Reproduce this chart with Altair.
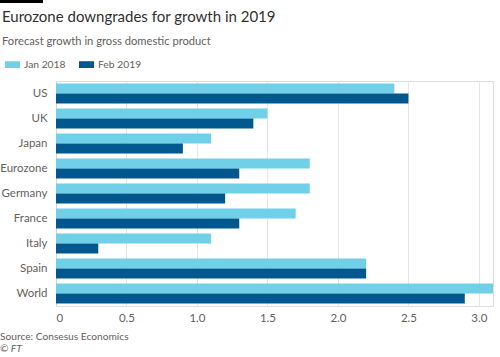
import altair as alt
import pandas as pd

countries = ["US", "UK", "Japan", "Eurozone", "Germany", "France", "Italy", "Spain", "World"]
jan_2018 = [2.4, 1.5, 1.1, 1.8, 1.8, 1.7, 1.1, 2.2, 3.1]
feb_2019 = [2.5, 1.4, 0.9, 1.3, 1.2, 1.3, 0.3, 2.2, 2.9]
series = ["Jan 2018", "Feb 2019"]
colors = ["#6fd0e8", "#00588f"]
x_ticks = [0, 0.5, 1.0, 1.5, 2.0, 2.5, 3.0]

title_text = "Eurozone downgrades for growth in 2019"
subtitle_text = "Forecast growth in gross domestic product"
source_text = "Source: Consesus Economics"
credit_text = "© FT"

rows = []
for c, a, b in zip(countries, jan_2018, feb_2019):
    rows.append({"country": c, "series": series[0], "value": a})
    rows.append({"country": c, "series": series[1], "value": b})
df = pd.DataFrame(rows)

FONT = "Lato"
TXT = "#66605c"

bars = alt.Chart(df).mark_bar(cornerRadius=0).encode(
    y=alt.Y("country:N", sort=countries, title=None,
            scale=alt.Scale(paddingInner=0.2, paddingOuter=0.1),
            axis=alt.Axis(ticks=False, labelPadding=9, labelFontSize=11.5,
                          labelColor=TXT, labelFont=FONT, domain=True,
                          domainColor="#d9d3ce", grid=False)),
    yOffset=alt.YOffset("series:N", sort=series),
    x=alt.X("value:Q", title=None,
            scale=alt.Scale(domain=[0, 3.1], nice=False),
            axis=alt.Axis(values=x_ticks,
                          labelExpr="datum.value == 0 ? '0' : format(datum.value, '.1f')",
                          ticks=False, domain=False, grid=True, gridColor="#e9e4df",
                          labelPadding=6, labelFontSize=11.5, labelColor=TXT, labelFont=FONT)),
    color=alt.Color("series:N", sort=series,
                    scale=alt.Scale(domain=series, range=colors),
                    legend=alt.Legend(title=None, orient="none", direction="horizontal",
                                      legendX=-51, legendY=-24,
                                      symbolType="M-1,-0.45L1,-0.45L1,0.45L-1,0.45Z",
                                      symbolSize=225, labelFontSize=10.3, labelColor=TXT,
                                      labelFont=FONT, columnPadding=13, labelOffset=4,
                                      symbolStrokeWidth=0)),
)


def txt(s, x, y, size, color, style="normal"):
    return alt.Chart(pd.DataFrame({"t": [s]})).mark_text(
        align="left", baseline="alphabetic", fontSize=size, font=FONT,
        color=color, fontStyle=style
    ).encode(text="t:N", x=alt.value(x), y=alt.value(y))


title = txt(title_text, -54, -59, 15, "#33302e")
subtitle = txt(subtitle_text, -54, -36, 11.2, TXT)
src = txt(source_text, -56, 259, 10.2, TXT)
ft = txt(credit_text, -56, 271, 10.2, TXT, "italic")

topbar = alt.Chart(pd.DataFrame({"k": [1]})).mark_rect(color="#000000").encode(
    x=alt.value(-56), x2=alt.value(-13), y=alt.value(-81), y2=alt.value(-78)
)

chart = alt.layer(bars, title, subtitle, src, ft, topbar).properties(
    width=437, height=225,
    padding={"left": 56, "top": 81, "right": 7, "bottom": 51},
    autosize=alt.AutoSizeParams(type="none"),
).configure_view(stroke=None).configure(background="white")

chart.save("out.html", embed_options={"renderer": "svg", "actions": False})
